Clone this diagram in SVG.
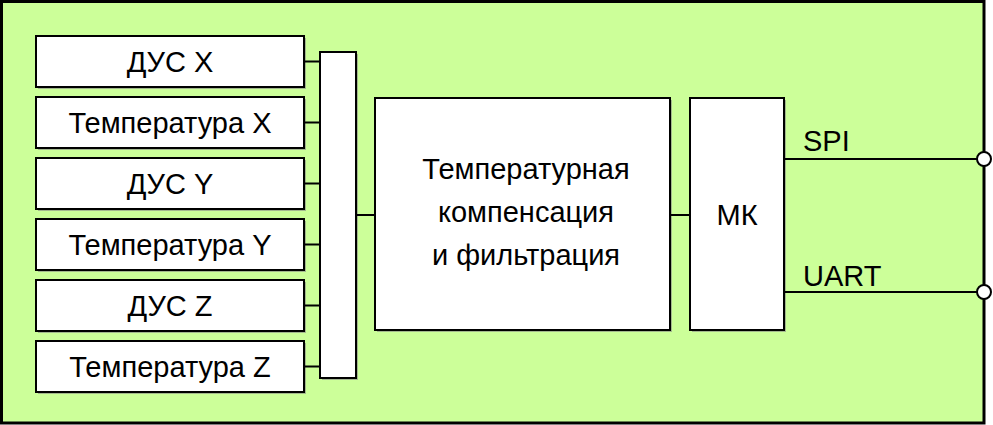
<svg xmlns="http://www.w3.org/2000/svg" width="993" height="425" viewBox="0 0 993 425">
<style>
.box{fill:#fff;stroke:#000;stroke-width:2}
.sh{fill:#888;opacity:0.6}
.t{font-family:"Liberation Sans",Arial,sans-serif;font-size:29px;fill:#000;text-anchor:middle}
.tl{font-family:"Liberation Sans",Arial,sans-serif;font-size:29px;fill:#000}
.ln{stroke:#000;stroke-width:2;fill:none}
</style>
<rect width="993" height="425" fill="#fff"/>
<rect id="frame" x="1.5" y="1.5" width="982.5" height="421.5" fill="#ccff99" stroke="#000" stroke-width="3"/>
<g id="n1"><rect class="sh" x="38" y="38" width="268" height="51"/><rect class="box" x="36" y="36" width="268" height="51"/><text class="t" x="170" y="72">ДУС X</text></g>
<g id="n2"><rect class="sh" x="38" y="99" width="268" height="51"/><rect class="box" x="36" y="97" width="268" height="51"/><text class="t" x="170" y="133">Температура X</text></g>
<g id="n3"><rect class="sh" x="38" y="160" width="268" height="51"/><rect class="box" x="36" y="158" width="268" height="51"/><text class="t" x="170" y="194">ДУС Y</text></g>
<g id="n4"><rect class="sh" x="38" y="221" width="268" height="51"/><rect class="box" x="36" y="219" width="268" height="51"/><text class="t" x="170" y="255">Температура Y</text></g>
<g id="n5"><rect class="sh" x="38" y="282" width="268" height="51"/><rect class="box" x="36" y="280" width="268" height="51"/><text class="t" x="170" y="316">ДУС Z</text></g>
<g id="n6"><rect class="sh" x="38" y="343" width="268" height="51"/><rect class="box" x="36" y="341" width="268" height="51"/><text class="t" x="170" y="377">Температура Z</text></g>
<g id="bus"><rect class="sh" x="322" y="54" width="36" height="326"/><rect class="box" x="320" y="52" width="36" height="326"/></g>
<g id="filter"><rect class="sh" x="377" y="100" width="295" height="232"/><rect class="box" x="375" y="98" width="295" height="232"/>
<text class="t" x="526" y="179">Температурная</text>
<text class="t" x="526" y="222">компенсация</text>
<text class="t" x="526" y="265">и фильтрация</text></g>
<g id="mk"><rect class="sh" x="692" y="100" width="94" height="232"/><rect class="box" x="690" y="98" width="94" height="232"/><text class="t" x="737" y="225">МК</text></g>
<g id="connectors">
<line class="ln" x1="304" y1="61.5" x2="320" y2="61.5"/>
<line class="ln" x1="304" y1="122.5" x2="320" y2="122.5"/>
<line class="ln" x1="304" y1="183.5" x2="320" y2="183.5"/>
<line class="ln" x1="304" y1="244.5" x2="320" y2="244.5"/>
<line class="ln" x1="304" y1="305.5" x2="320" y2="305.5"/>
<line class="ln" x1="304" y1="366.5" x2="320" y2="366.5"/>
<line class="ln" x1="356" y1="215" x2="375" y2="215"/>
<line class="ln" x1="670" y1="215" x2="690" y2="215"/>
<line class="ln" x1="784" y1="159" x2="977" y2="159"/>
<line class="ln" x1="784" y1="292" x2="977" y2="292"/>
<circle cx="984" cy="159" r="7" fill="#fff" stroke="#000" stroke-width="2"/>
<circle cx="984" cy="292" r="7" fill="#fff" stroke="#000" stroke-width="2"/>
<text class="tl" x="803" y="151">SPI</text>
<text class="tl" x="803" y="286">UART</text>
</g>
</svg>
